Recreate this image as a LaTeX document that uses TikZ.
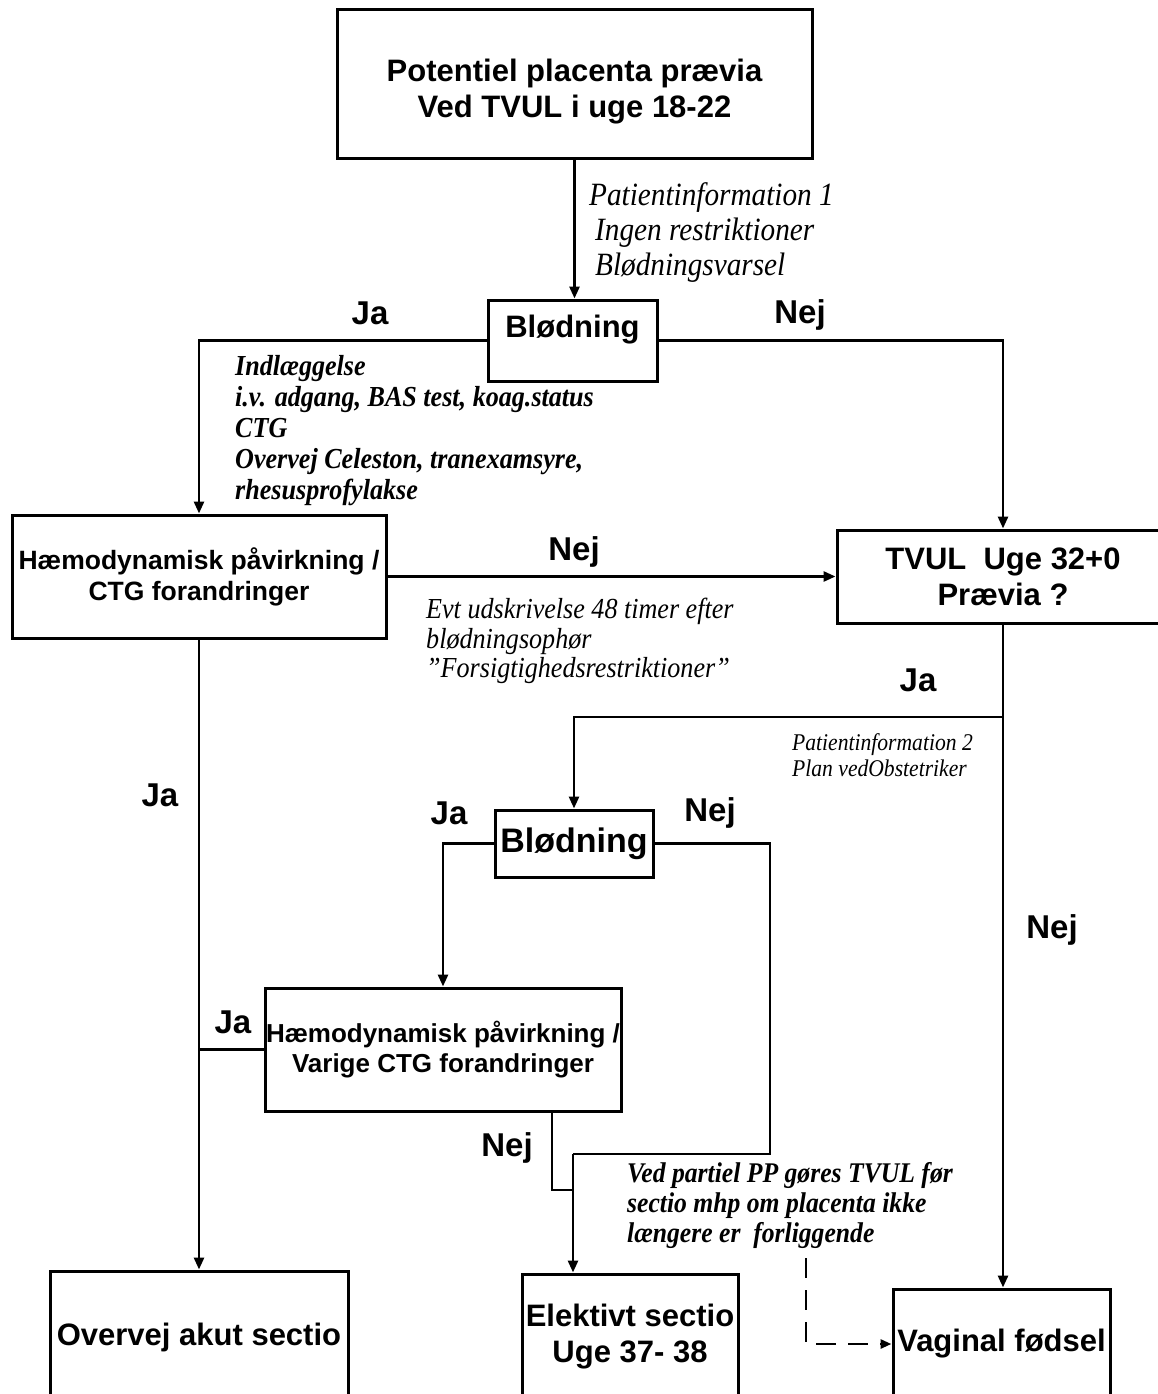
\documentclass[tikz,border=0pt]{standalone}
\usepackage{fontspec}
\setmainfont[FakeStretch=0.9]{Liberation Serif}
\setsansfont{Liberation Sans}
\usetikzlibrary{arrows.meta}
\tikzset{
  box/.style={draw, line width=3pt, inner sep=0pt, align=center},
  big/.style={font=\sffamily\bfseries\fontsize{31}{36}\selectfont},
  mid/.style={font=\sffamily\bfseries\fontsize{26.5}{31}\selectfont},
  yn/.style={font=\sffamily\bfseries\fontsize{33}{38}\selectfont, inner sep=0pt},
  itblock/.style={font=\rmfamily\itshape, align=left, anchor=north west, inner sep=0pt},
  bitblock/.style={font=\rmfamily\bfseries\itshape\fontsize{29}{31}\selectfont, align=left, anchor=north west, inner sep=0pt},
  conn/.style={line width=2.7pt},
  arr/.style={line width=2.7pt, -{Triangle[length=12pt,width=10pt]}},
  darr/.style={line width=2.7pt, dash pattern=on 20pt off 12pt, -{Triangle[length=11pt,width=9pt]}}
}
\begin{document}
\begin{tikzpicture}[x=1pt,y=-1pt]
\useasboundingbox (0,0) rectangle (1158,1394);
% boxes
\node[box, minimum width=475pt, minimum height=148pt] (top) at (574.5,84) {};
\node[big, align=center, inner sep=0pt] (topt) at (574.5,92) {Potentiel placenta prævia\\Ved TVUL i uge 18-22};
\node[box, minimum width=169pt, minimum height=81pt] (b1) at (572.5,340.5) {};
\node[big, inner sep=0pt] (b1t) at (572.5,330) {Blødning};
\node[box, mid, minimum width=374pt, minimum height=123pt] (hm1) at (199,576.5) {Hæmodynamisk påvirkning /\\CTG forandringer};
\node[box, big, minimum width=332pt, minimum height=93pt] (tv) at (1003,576.5) {TVUL\ \ Uge 32+0\\Prævia ?};
\node[box, font=\sffamily\bfseries\fontsize{34}{40}\selectfont, minimum width=158pt, minimum height=67pt] (b2) at (574,843.5) {Blødning};
\node[box, font=\sffamily\bfseries\fontsize{26}{30}\selectfont, minimum width=356pt, minimum height=123pt] (hm2) at (443,1049.5) {Hæmodynamisk påvirkning /\\Varige CTG forandringer};
\node[box, big, minimum width=298pt, minimum height=132pt] (ov) at (199,1337) {Overvej akut sectio};
\node[box, big, minimum width=216pt, minimum height=126pt] (el) at (630,1337) {Elektivt sectio\\Uge 37- 38};
\node[box, big, minimum width=217pt, minimum height=110pt] (vg) at (1001.5,1344) {Vaginal fødsel};
% connectors
\draw[arr] (top.south) -- (top.south |- b1.north);
\draw[arr] (b1.west) -| (hm1.north);
\draw[arr] (b1.east) -| (tv.north);
\draw[arr] (hm1.east) -- (hm1.east -| tv.west);
\draw[arr] (hm1.south) -- (ov.north);
\draw[arr] (tv.south) -- (vg.north -| tv.south);
\coordinate (br) at (1003,717);
\draw[arr] (br) -| (b2.north);
\draw[arr] (b2.west) -| (hm2.north);
\coordinate (jl) at (199,1050);
\draw[conn] (hm2.west) -- (hm2.west -| jl);
\coordinate (h2o) at (552,1111);
\coordinate (j1) at (573,1190);
\coordinate (nx) at (770,1154);
\coordinate (j2) at (573,1154);
\draw[conn] (h2o) |- (j1);
\draw[conn] (b2.east) -| (nx) -- (j2);
\draw[arr] (j2) -- (j2 |- el.north);
\coordinate (ds) at (806,1258);
\draw[darr] (ds) |- (vg.west);
% yes/no labels
\node[yn] (l1) at (370,313) {Ja};
\node[yn] (l2) at (800,315) {Nej};
\node[yn] (l3) at (574,552) {Nej};
\node[yn] (l4) at (918,680) {Ja};
\node[yn] (l5) at (160,795) {Ja};
\node[yn] (l6) at (449,813) {Ja};
\node[yn] (l7) at (710,813) {Nej};
\node[yn] (l8) at (1052,930) {Nej};
\node[yn] (l9) at (233,1022) {Ja};
\node[yn] (l10) at (507,1148) {Nej};
% annotation texts
\node[itblock, font=\rmfamily\itshape\fontsize{32.5}{35}\selectfont] (p1) at (589,182) {Patientinformation 1\\\hspace*{6pt}Ingen restriktioner\\\hspace*{6pt}Blødningsvarsel};
\node[bitblock] (ind) at (235,355) {Indlæggelse\\i.v. adgang, BAS test, koag.status\\CTG\\Overvej Celeston, tranexamsyre,\\rhesusprofylakse};
\node[itblock, font=\rmfamily\itshape\fontsize{29}{29.5}\selectfont] (evt) at (426,598) {Evt udskrivelse 48 timer efter\\blødningsophør\\”Forsigtighedsrestriktioner”};
\node[itblock, font=\rmfamily\itshape\fontsize{24}{26}\selectfont] (p2) at (792,733) {Patientinformation 2\\Plan vedObstetriker};
\node[bitblock, font=\rmfamily\bfseries\itshape\fontsize{28.5}{30}\selectfont] (ved) at (627,1162) {Ved partiel PP gøres TVUL før\\sectio mhp om placenta ikke\\længere er\ \ forliggende};
\end{tikzpicture}
\end{document}
